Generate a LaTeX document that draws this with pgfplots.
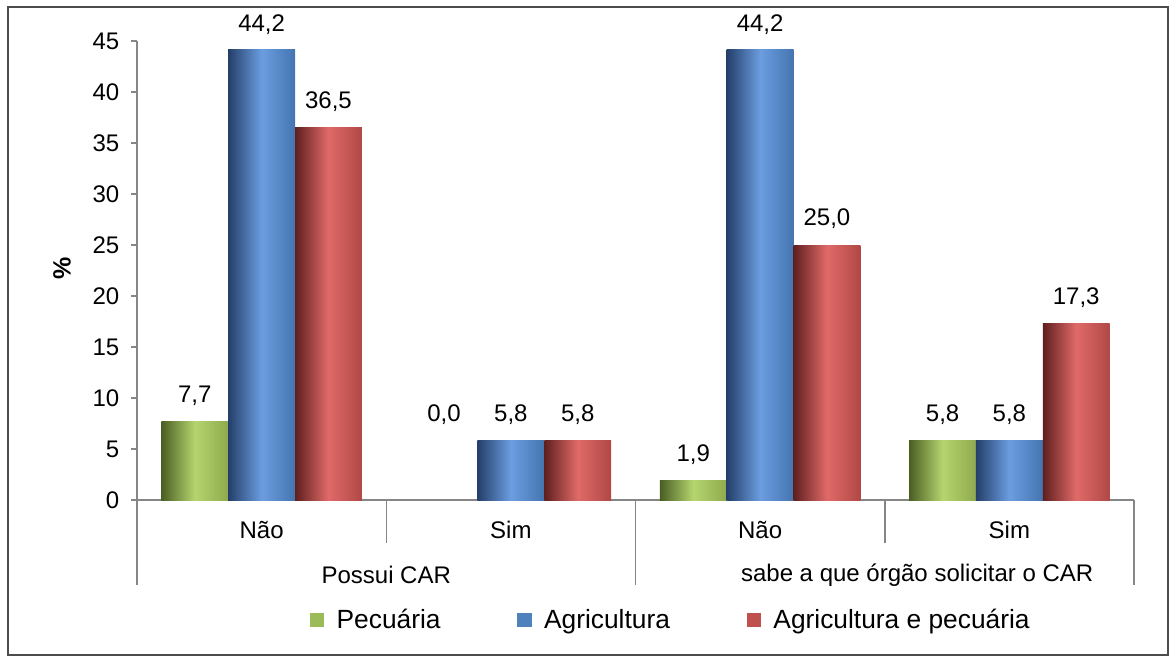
\documentclass[border=0pt]{standalone}
\usepackage{pgfplots}
\pgfplotsset{compat=1.18}
\usepackage{pgfplotstable}
\usepackage{fontspec}
\setmainfont{Liberation Sans}

\definecolor{gD}{HTML}{4A5E23}\definecolor{gL}{HTML}{B5D56F}\definecolor{gR}{HTML}{8FAA4D}\definecolor{gF}{HTML}{9BBB59}
\definecolor{bD}{HTML}{243F6A}\definecolor{bL}{HTML}{6B9DE0}\definecolor{bR}{HTML}{4575B0}\definecolor{bF}{HTML}{4F81BD}
\definecolor{rD}{HTML}{5E1F1E}\definecolor{rL}{HTML}{E06A68}\definecolor{rR}{HTML}{B04845}\definecolor{rF}{HTML}{C0504D}
\definecolor{axgray}{HTML}{868686}

\pgfplotstableread{
x y off
0 7.7 26
1 0.0 85
2 1.9 26
3 5.8 26
}\pec
\pgfplotstableread{
x y off
0 44.2 25
1 5.8 26
2 44.2 25
3 5.8 26
}\agr
\pgfplotstableread{
x y off
0 36.5 26
1 5.8 26
2 25.0 26
3 17.3 26
}\agp

\newcommand{\onebar}[4]{%
  \addplot[draw=none, #1, bar shift=#2, forget plot, restrict x to domain=#3:#3] table[x=x,y=y]{#4};}

\begin{document}
\fontsize{14.4}{17}\selectfont
\begin{tikzpicture}
\path[use as bounding box] (0,0) rectangle (705.6pt,397.2pt);
\draw[black!70, line width=0.7pt] (4.8pt,4.2pt) rectangle (700.8pt,393pt);
\node[rotate=90, font=\fontsize{15}{17}\selectfont\bfseries] at (37.2pt,236.4pt) {\%};
\begin{axis}[
  at={(82.2pt,97.2pt)}, anchor=south west, scale only axis,
  width=598.2pt, height=275.4pt,
  xmin=-0.5, xmax=3.5, ymin=0, ymax=45,
  ytick={0,5,...,45}, xtick=\empty,
  axis x line=bottom, axis y line=left,
  axis line style={-, draw=axgray, line width=0.9pt},
  y tick style={draw=axgray, line width=0.8pt},
  tick align=outside, major tick length=3.6pt,
  yticklabel style={font=\fontsize{14.4}{17}\selectfont, xshift=-2pt},
  /pgf/number format/assume math mode=true,
  clip=false,
  ybar=0pt, bar width=0.268,
  nodes near coords={\pgfmathprintnumber[fixed, fixed zerofill, precision=1, use comma, assume math mode=true]{\pgfplotspointmeta}},
  visualization depends on={\thisrow{off} \as \off},
  every node near coord/.append style={anchor=center, yshift=\off*0.6pt, font=\fontsize{14.4}{17}\selectfont, text=black},
  legend style={draw=none, at={(0.536,-0.262)}, anchor=center, font=\fontsize{15.8}{18}\selectfont,
    /tikz/every odd column/.append style={column sep=5.5pt},
    /tikz/every even column/.append style={column sep=44pt}},
  legend columns=3,
  legend image code/.code={\fill[#1] (0pt,-4.3pt) rectangle (8.6pt,4.3pt);},
]
\onebar{left color=gD, right color=gR, middle color=gL}{-0.268}{0}{\pec}
\onebar{left color=gD, right color=gR, middle color=gL}{-0.268}{1}{\pec}
\onebar{left color=gD, right color=gR, middle color=gL}{-0.268}{2}{\pec}
\onebar{left color=gD, right color=gR, middle color=gL}{-0.268}{3}{\pec}
\onebar{left color=bD, right color=bR, middle color=bL}{0}{0}{\agr}
\onebar{left color=bD, right color=bR, middle color=bL}{0}{1}{\agr}
\onebar{left color=bD, right color=bR, middle color=bL}{0}{2}{\agr}
\onebar{left color=bD, right color=bR, middle color=bL}{0}{3}{\agr}
\onebar{left color=rD, right color=rR, middle color=rL}{0.268}{0}{\agp}
\onebar{left color=rD, right color=rR, middle color=rL}{0.268}{1}{\agp}
\onebar{left color=rD, right color=rR, middle color=rL}{0.268}{2}{\agp}
\onebar{left color=rD, right color=rR, middle color=rL}{0.268}{3}{\agp}
\addlegendimage{draw=none, fill=gF}
\addlegendimage{draw=none, fill=bF}
\addlegendimage{draw=none, fill=rF}
\legend{Pecuária, Agricultura, Agricultura e pecuária}
\draw[axgray, line width=0.9pt] (axis cs:-0.5,0) -- ++(0pt,-51pt);
\draw[axgray, line width=0.9pt] (axis cs:0.5,0) -- ++(0pt,-25.8pt);
\draw[axgray, line width=0.9pt] (axis cs:1.5,0) -- ++(0pt,-51pt);
\draw[axgray, line width=0.9pt] (axis cs:2.5,0) -- ++(0pt,-25.8pt);
\draw[axgray, line width=0.9pt] (axis cs:3.5,0) -- ++(0pt,-51pt);
\node at (axis cs:0,0) [yshift=-18pt] {Não};
\node at (axis cs:1,0) [yshift=-18pt] {Sim};
\node at (axis cs:2,0) [yshift=-18pt] {Não};
\node at (axis cs:3,0) [yshift=-18pt] {Sim};
\node at (axis cs:0.5,0) [yshift=-45pt] {Possui CAR};
\node at (axis cs:2.63,0) [yshift=-45pt] {sabe a que órgão solicitar o CAR};
\end{axis}
\end{tikzpicture}
\end{document}
